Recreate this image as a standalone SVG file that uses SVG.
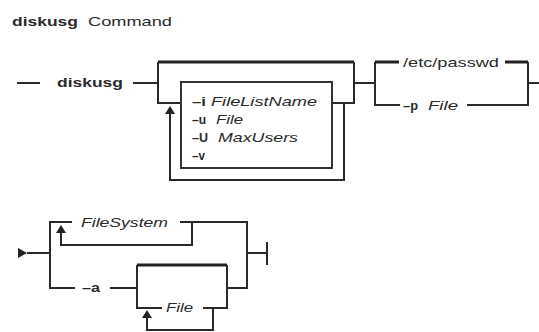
<svg xmlns="http://www.w3.org/2000/svg" width="539" height="332" viewBox="0 0 539 332">
<style>
text{font-family:"Liberation Sans",Arial,sans-serif;font-size:13px;fill:#2a2a2a}
.b{font-weight:bold}
.i{font-style:italic}
.ln{fill:none;stroke:#2a2a2a;stroke-width:2}
.tk{fill:none;stroke:#222;stroke-width:3}
.ar{fill:#222}
</style>
<rect width="539" height="332" fill="#ffffff"/>
<g id="title">
<text class="b" x="12" y="26" textLength="66" lengthAdjust="spacingAndGlyphs">diskusg</text>
<text x="88" y="26" textLength="84" lengthAdjust="spacingAndGlyphs">Command</text>
</g>
<g id="connectors">
<line class="ln" x1="17" y1="83" x2="40" y2="83"/>
<line class="ln" x1="133" y1="83" x2="158" y2="83"/>
<path class="ln" d="M181,103 H158 V62"/>
<path class="tk" d="M158,62 H354"/>
<path class="ln" d="M354,62 V103 H332"/>
<line class="ln" x1="354" y1="83" x2="375" y2="83"/>
<path class="ln" d="M170,113 V180 H344 V103"/>
<polygon class="ar" points="170,106 165,114 175,114"/>
<path class="ln" d="M400,105 H375 V62"/>
<path class="tk" d="M375,62 H399"/>
<path class="tk" d="M505,62 H528"/>
<path class="ln" d="M528,62 V105 H467"/>
<line class="ln" x1="528" y1="83" x2="539" y2="83"/>
<polygon class="ar" points="18,248 27,253 18,258"/>
<line class="ln" x1="27" y1="253" x2="50" y2="253"/>
<path class="ln" d="M72,222 H50 V288 H75"/>
<path class="ln" d="M61,232 V245 H192 V222"/>
<polygon class="ar" points="61,225 56,233 66,233"/>
<path class="ln" d="M180,222 H247 V288 H227"/>
<line class="ln" x1="247" y1="253" x2="267" y2="253"/>
<line class="ln" x1="267" y1="242" x2="267" y2="265"/>
<line class="ln" x1="110" y1="288" x2="137" y2="288"/>
<path class="ln" d="M162,308 H137 V265"/>
<path class="tk" d="M137,265 H227"/>
<path class="ln" d="M227,265 V308 H203"/>
<path class="ln" d="M147,317 V330 H213 V308"/>
<polygon class="ar" points="147,310 142,318 152,318"/>
</g>
<g id="cmd">
<text class="b" x="57" y="87" textLength="66" lengthAdjust="spacingAndGlyphs">diskusg</text>
</g>
<g id="options">
<rect x="181" y="82" width="151" height="86" fill="none" stroke="#333" stroke-width="2"/>
<text class="b" x="192" y="106" textLength="14" lengthAdjust="spacingAndGlyphs">–i</text>
<text class="i" x="211" y="106" textLength="106" lengthAdjust="spacingAndGlyphs">FileListName</text>
<text class="b" x="192" y="124" textLength="14" lengthAdjust="spacingAndGlyphs">–u</text>
<text class="i" x="216" y="124" textLength="27" lengthAdjust="spacingAndGlyphs">File</text>
<text class="b" x="192" y="142" textLength="16" lengthAdjust="spacingAndGlyphs">–U</text>
<text class="i" x="218" y="142" textLength="80" lengthAdjust="spacingAndGlyphs">MaxUsers</text>
<text class="b" x="192" y="160" textLength="13" lengthAdjust="spacingAndGlyphs">–v</text>
</g>
<g id="passwd">
<text x="403" y="67" textLength="96" lengthAdjust="spacingAndGlyphs">/etc/passwd</text>
</g>
<g id="pfile">
<text class="b" x="403" y="110" textLength="15" lengthAdjust="spacingAndGlyphs">–p</text>
<text class="i" x="428" y="110" textLength="30" lengthAdjust="spacingAndGlyphs">File</text>
</g>
<g id="filesystem">
<text class="i" x="81" y="227" textLength="87" lengthAdjust="spacingAndGlyphs">FileSystem</text>
</g>
<g id="aflag">
<text class="b" x="82" y="292" textLength="18" lengthAdjust="spacingAndGlyphs">–a</text>
</g>
<g id="afile">
<text class="i" x="166" y="312" textLength="27" lengthAdjust="spacingAndGlyphs">File</text>
</g>
</svg>
